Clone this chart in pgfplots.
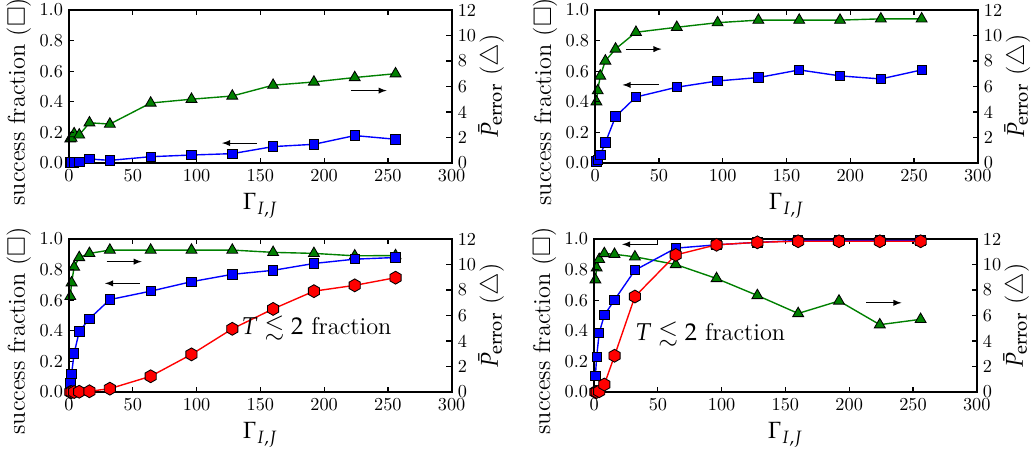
\documentclass[border=0pt]{standalone}
\usepackage{mathpazo}
\usepackage{amsmath,amssymb}
\usepackage{pgfplots}
\pgfplotsset{compat=1.18}

\definecolor{mgreen}{RGB}{0,128,0}

% hexagon marker (pointy top)
\pgfdeclareplotmark{hexagon*}{%
  \pgfpathmoveto{\pgfqpointpolar{90}{\pgfplotmarksize}}%
  \pgfpathlineto{\pgfqpointpolar{150}{\pgfplotmarksize}}%
  \pgfpathlineto{\pgfqpointpolar{210}{\pgfplotmarksize}}%
  \pgfpathlineto{\pgfqpointpolar{270}{\pgfplotmarksize}}%
  \pgfpathlineto{\pgfqpointpolar{330}{\pgfplotmarksize}}%
  \pgfpathlineto{\pgfqpointpolar{30}{\pgfplotmarksize}}%
  \pgfpathclose
  \pgfusepathqfillstroke}

\pgfplotsset{
  base/.style={scale only axis, width=220pt, height=88pt,
    xmin=0, xmax=300, clip=false, tick align=inside,
    major tick length=3pt,
    axis line style={line width=1.2pt},
    every tick/.style={black, line width=0.7pt},
    /pgf/number format/assume math mode=true,
    tick label style={font=\fontsize{10.5}{12}\selectfont},
    label style={font=\fontsize{14}{16}\selectfont}},
  leftax/.style={base, ymin=0, ymax=1,
    xtick={0,50,100,150,200,250,300},
    ytick={0,0.2,0.4,0.6,0.8,1.0},
    yticklabel style={/pgf/number format/.cd, fixed, fixed zerofill, precision=1},
    xtick pos=both, ytick pos=left,
    xlabel={$\Gamma_{I,J}$},
    xlabel style={font=\fontsize{13.5}{15}\selectfont},
    ylabel={success fraction ($\square$)},
    ylabel style={at={(axis description cs:-0.131,0.40)}, anchor=center}},
  rightax/.style={base, ymin=0, ymax=12, ytick={0,2,4,6,8,10,12},
    axis x line=none, axis y line*=right,
    ylabel={$\bar{P}_{\mathrm{error}}$ ($\triangle$)},
    ylabel style={at={(axis description cs:1.103,0.5)}, anchor=center}},
  sq/.style={blue, line width=0.8pt, mark=square*, mark size=2.7pt,
    mark options={fill=blue, draw=black, line width=0.5pt}},
  tri/.style={mgreen, line width=0.8pt, mark=triangle*, mark size=3.6pt,
    mark options={fill=mgreen, draw=black, line width=0.5pt}},
  hex/.style={red, line width=0.8pt, mark=hexagon*, mark size=3.7pt,
    mark options={fill=red, draw=black, line width=0.5pt}},
}

\begin{document}
\begin{tikzpicture}
\useasboundingbox (0,0) rectangle (592.8pt,-258.2pt);

% ---------- top left ----------
\begin{axis}[rightax, at={(39.7pt,-93.7pt)}, anchor=south west]
\addplot[tri] coordinates {(1,1.9) (2,1.95) (4,2.3) (8,2.2) (16,3.15) (32,3.05)
  (64,4.7) (96,5.0) (128,5.25) (160,6.1) (192,6.35) (224,6.7) (256,7.0)};
\end{axis}
\begin{axis}[leftax, at={(39.7pt,-93.7pt)}, anchor=south west]
\addplot[sq] coordinates {(1,0.004) (2,0.004) (4,0.004) (8,0.005) (16,0.026) (32,0.017)
  (64,0.041) (96,0.052) (128,0.061) (160,0.107) (192,0.122) (224,0.179) (256,0.155)};
\draw[-latex, line width=0.6pt] (axis cs:147,0.13) -- (axis cs:120,0.13);
\draw[-latex, line width=0.6pt] (axis cs:221,0.473) -- (axis cs:249,0.473);
\end{axis}

% ---------- top right ----------
\begin{axis}[rightax, at={(342.2pt,-93.7pt)}, anchor=south west]
\addplot[tri] coordinates {(1,4.8) (2,5.67) (4,6.82) (8,8.0) (16,8.94) (32,10.25)
  (64,10.64) (96,11.0) (128,11.2) (160,11.2) (192,11.2) (224,11.3) (256,11.3)};
\end{axis}
\begin{axis}[leftax, at={(342.2pt,-93.7pt)}, anchor=south west]
\addplot[sq] coordinates {(1,0.01) (2,0.02) (4,0.052) (8,0.133) (16,0.303) (32,0.431)
  (64,0.495) (96,0.536) (128,0.558) (160,0.608) (192,0.569) (224,0.549) (256,0.608)};
\draw[-latex, line width=0.6pt] (axis cs:24,0.744) -- (axis cs:52,0.744);
\draw[-latex, line width=0.6pt] (axis cs:50,0.51) -- (axis cs:21.5,0.51);
\end{axis}

% ---------- bottom left ----------
\begin{axis}[rightax, at={(39.7pt,-225.4pt)}, anchor=south west]
\addplot[tri] coordinates {(1,7.5) (2,8.57) (4,9.8) (8,10.55) (16,10.87) (32,11.13)
  (64,11.13) (96,11.13) (128,11.13) (160,10.95) (192,10.87) (224,10.68) (256,10.7)};
\end{axis}
\begin{axis}[leftax, at={(39.7pt,-225.4pt)}, anchor=south west]
\addplot[sq] coordinates {(1,0.055) (2,0.12) (4,0.253) (8,0.396) (16,0.479) (32,0.604)
  (64,0.659) (96,0.721) (128,0.769) (160,0.795) (192,0.84) (224,0.868) (256,0.879)};
\addplot[hex] coordinates {(1,0.0) (2,0.0) (4,0.0) (8,0.002) (16,0.005) (32,0.022)
  (64,0.103) (96,0.246) (128,0.413) (160,0.543) (192,0.659) (224,0.697) (256,0.747)};
\draw[-latex, line width=0.6pt] (axis cs:29.5,0.852) -- (axis cs:57,0.852);
\draw[-latex, line width=0.6pt] (axis cs:55.6,0.71) -- (axis cs:28.2,0.71);
\node[anchor=west, font=\fontsize{14}{16}\selectfont, inner sep=0pt] at (axis cs:135,0.418) {$T \lesssim 2$ fraction};
\end{axis}

% ---------- bottom right ----------
\begin{axis}[rightax, at={(341.6pt,-225.4pt)}, anchor=south west]
\addplot[tri] coordinates {(1,8.8) (2,9.74) (4,10.4) (8,10.86) (16,10.8) (32,10.6)
  (64,10.0) (96,8.9) (128,7.57) (160,6.16) (192,7.14) (224,5.28) (256,5.7)};
\end{axis}
\begin{axis}[leftax, at={(341.6pt,-225.4pt)}, anchor=south west]
\addplot[sq] coordinates {(1,0.104) (2,0.23) (4,0.387) (8,0.502) (16,0.602) (32,0.796)
  (64,0.94) (96,0.962) (128,0.978) (160,0.99) (192,0.99) (224,0.99) (256,0.99)};
\addplot[hex] coordinates {(1,0.0) (2,0.0) (4,0.005) (8,0.049) (16,0.237) (32,0.624)
  (64,0.896) (96,0.962) (128,0.978) (160,0.985) (192,0.985) (224,0.985) (256,0.985)};
\draw[-latex, line width=0.6pt] (axis cs:50,0.965) -- (axis cs:22,0.965);
\draw[line width=0.6pt] (axis cs:50,0.965) -- (axis cs:50,1.0);
\draw[-latex, line width=0.6pt] (axis cs:213.5,0.583) -- (axis cs:241,0.583);
\node[anchor=west, font=\fontsize{14}{16}\selectfont, inner sep=0pt] at (axis cs:32,0.38) {$T \lesssim 2$ fraction};
\end{axis}
\end{tikzpicture}
\end{document}
